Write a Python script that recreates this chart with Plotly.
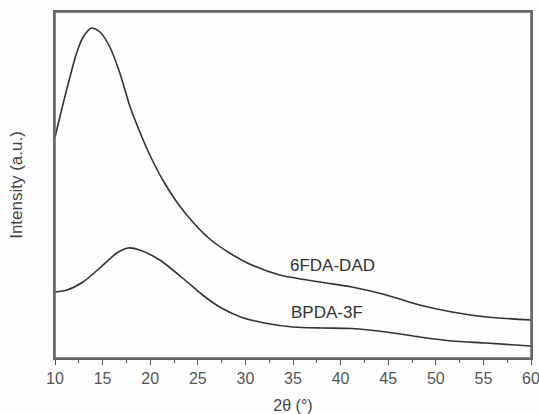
import plotly.graph_objects as go

# 6FDA-DAD trace (2theta, intensity a.u.)
fdad_x = [10.0, 10.87, 11.57, 12.27, 12.96, 13.84, 14.72, 15.76, 16.81, 17.86, 18.91,
          19.96, 21.32, 22.79, 24.47, 26.25, 28.34, 30.44, 33.6, 37.8, 41.2, 44.8,
          48.3, 51.7, 55.3, 60.0]
fdad_y = [221, 255, 281, 305, 321, 330, 326, 311, 285, 252, 226,
          203, 178, 156, 136, 119, 105, 94, 83, 76, 71, 63,
          53, 46, 41, 38]

# BPDA-3F trace
bpda_x = [10.0, 11.26, 12.94, 14.7, 16.5, 17.7, 18.9, 21.0, 23.4, 25.5, 27.3,
          29.5, 32.0, 35.0, 38.0, 41.2, 44.8, 48.3, 51.7, 55.3, 60.0]
bpda_y = [66, 68, 76, 90, 105, 110, 108, 98, 80, 63, 51,
          41, 35, 31, 30, 29.5, 26, 21, 17, 15, 12]

labels = ["6FDA-DAD", "BPDA-3F"]
label_x = [39.1, 38.6]
label_y = [93, 46]

tick_vals = list(range(10, 61, 5))

fig = go.Figure()
for xs, ys, name in [(fdad_x, fdad_y, labels[0]), (bpda_x, bpda_y, labels[1])]:
    fig.add_trace(go.Scatter(x=xs, y=ys, mode="lines", name=name,
                             line=dict(color="#333333", width=1.6, shape="spline", smoothing=0.7),
                             showlegend=False))

for t, lx, ly in zip(labels, label_x, label_y):
    fig.add_annotation(x=lx, y=ly, text=t, showarrow=False,
                       font=dict(family="Liberation Sans, Arial", size=17, color="#333333"))

# plot frame
fig.add_shape(type="rect", xref="paper", yref="paper", x0=0, x1=1, y0=0, y1=1,
              line=dict(color="#666666", width=1.5), layer="above")

fig.update_layout(
    width=539, height=414,
    margin=dict(l=55, r=8, t=12, b=56),
    paper_bgcolor="#fdfdfd", plot_bgcolor="#fdfdfd",
    font=dict(family="Liberation Sans, Arial", size=16, color="#444444"),
)
fig.update_xaxes(range=[10, 60], tickvals=tick_vals, ticks="outside", ticklen=5,
                 tickcolor="#555555", showline=True, linecolor="#666666", linewidth=1.5,
                 mirror=True, showgrid=False, zeroline=False, automargin=False,
                 ticklabeloverflow="allow",
                 minor=dict(ticks="outside", ticklen=3, dtick=2.5, tick0=10, tickcolor="#555555"),
                 title=dict(text="2θ (°)", font=dict(size=16, color="#444444"), standoff=15),
                 tickfont=dict(size=16, color="#555555"))
fig.update_yaxes(range=[0, 346], showticklabels=False, ticks="", showline=True,
                 linecolor="#666666", linewidth=1.5, mirror=True, showgrid=False, zeroline=False,
                 automargin=False,
                 title=dict(text="Intensity (a.u.)", font=dict(size=17, color="#444444"), standoff=26))

fig.write_html("out.html")
